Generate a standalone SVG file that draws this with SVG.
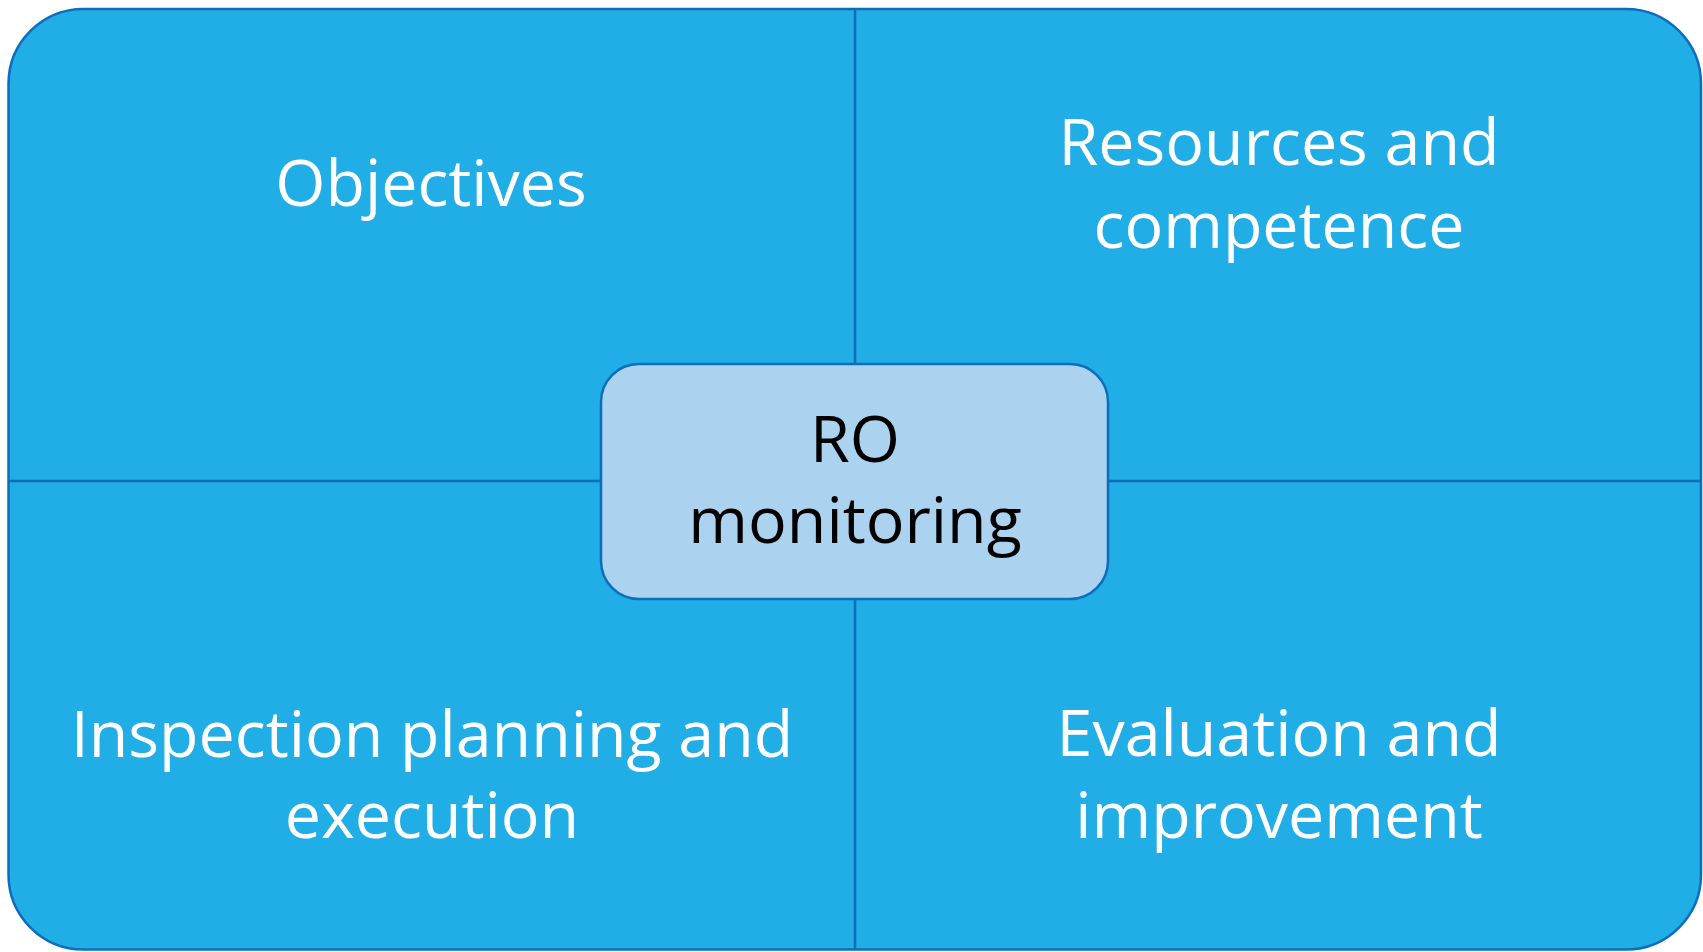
<svg xmlns="http://www.w3.org/2000/svg" width="1703" height="952" viewBox="0 0 1703 952">
  <style>
    .frame { fill: #21ADE5; stroke: #0B6EBD; stroke-width: 2.5; }
    .divider { stroke: #0B6EBD; stroke-width: 2.5; fill: none; }
    .center { fill: #ABD2EF; stroke: #0B6EBD; stroke-width: 2.5; }
    .lbl { font-family: "Open Sans", "Noto Sans", "Liberation Sans", sans-serif; font-size: 64.5px; text-anchor: middle; fill: #FFFFFF; }
    .lbl-dark { fill: #000000; }
  </style>
  <g id="frame">
    <rect class="frame" x="8.5" y="9" width="1692.5" height="940.5" rx="75" ry="75"/>
  </g>
  <g id="connectors">
    <line class="divider" x1="855" y1="9" x2="855" y2="949.5"/>
    <line class="divider" x1="8.5" y1="481" x2="1701" y2="481"/>
  </g>
  <g id="objectives">
    <text class="lbl" x="431" y="206">Objectives</text>
  </g>
  <g id="resources">
    <text class="lbl" x="1279" y="165">Resources and</text>
    <text class="lbl" x="1279" y="248">competence</text>
  </g>
  <g id="inspection">
    <text class="lbl" x="432" y="757">Inspection planning and</text>
    <text class="lbl" x="432" y="838">execution</text>
  </g>
  <g id="evaluation">
    <text class="lbl" x="1279" y="756">Evaluation and</text>
    <text class="lbl" x="1279" y="838">improvement</text>
  </g>
  <g id="ro-monitoring">
    <rect class="center" x="601" y="364" width="507" height="235" rx="38" ry="38"/>
    <text class="lbl lbl-dark" x="855" y="462">RO</text>
    <text class="lbl lbl-dark" x="855" y="543">monitoring</text>
  </g>
</svg>
